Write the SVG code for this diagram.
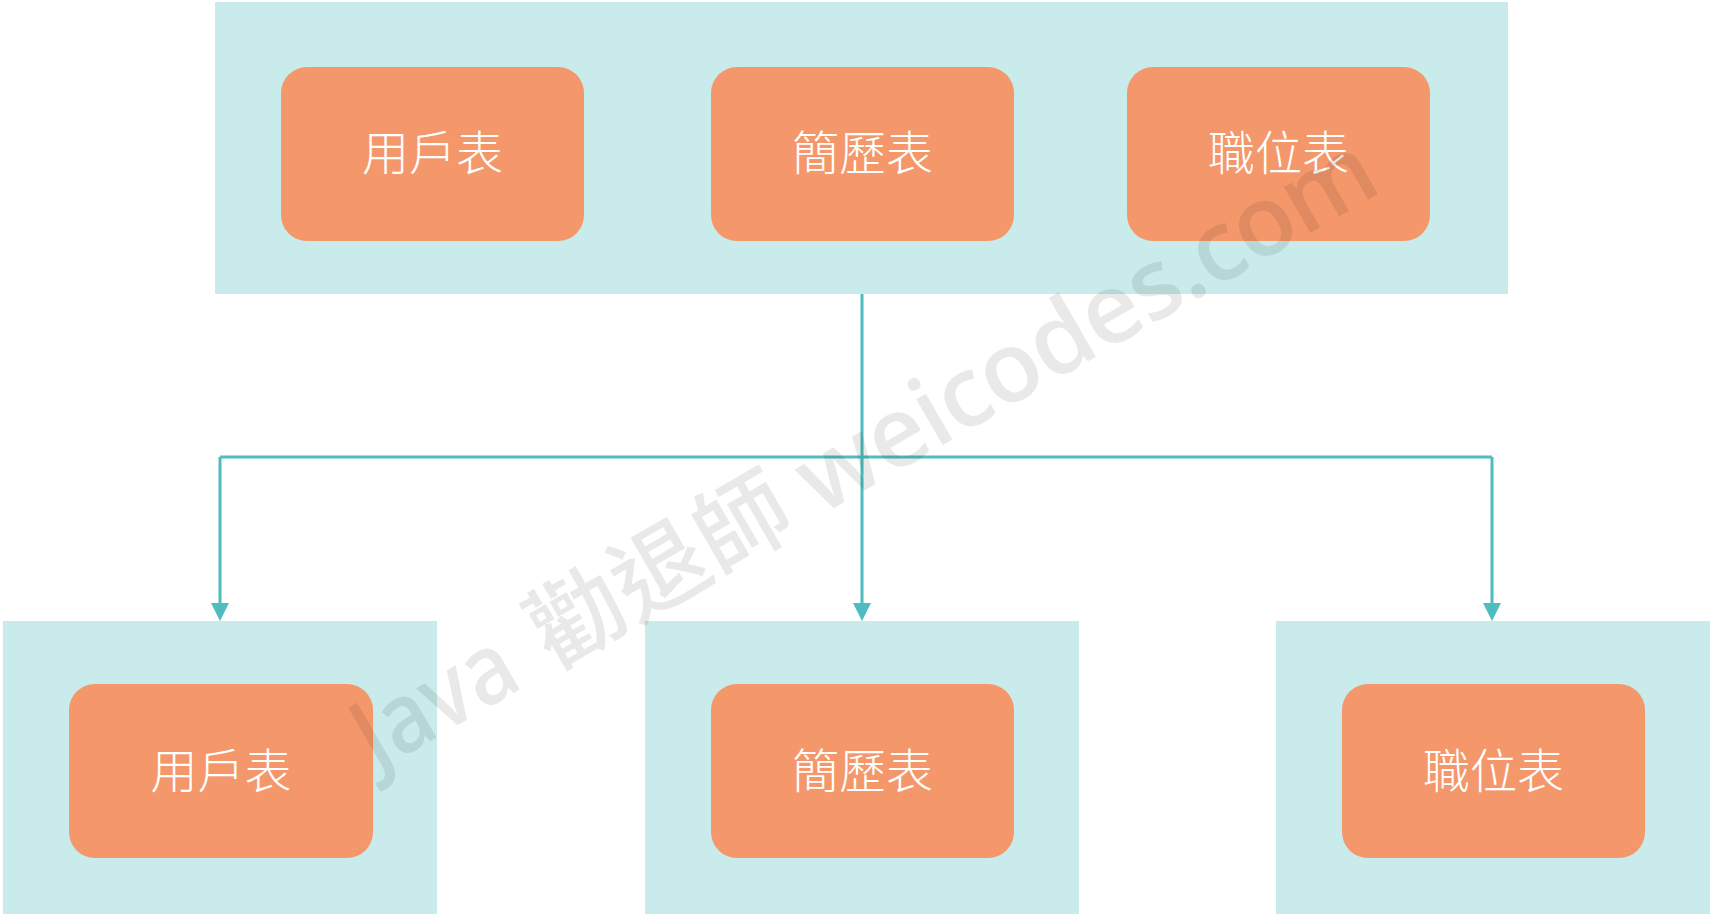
<svg xmlns="http://www.w3.org/2000/svg" width="1710" height="914" viewBox="0 0 1710 914">
  <style>
    .panel { fill: #c9ebeb; }
    .box { fill: #f4976a; }
    .label { fill: #ffffff; font-family: "Noto Sans CJK TC", "Noto Sans CJK SC", sans-serif; font-size: 47px; font-weight: 300; text-anchor: middle; dominant-baseline: central; }
    .link { fill: none; stroke: #4fbdc0; stroke-width: 3; }
    .mark { fill: #000000; fill-opacity: 0.085; font-family: "Open Sans", "Noto Sans CJK TC", sans-serif; font-size: 98px; font-weight: 600; }
    .mark-cjk { fill: #000000; fill-opacity: 0.085; font-family: "Noto Sans CJK TC", "Noto Sans CJK SC", sans-serif; font-size: 95px; font-weight: 500; }
  </style>
  <defs>
    <marker id="arrow" viewBox="0 0 18 18" refX="0" refY="9" markerWidth="18" markerHeight="18" markerUnits="userSpaceOnUse" orient="auto">
      <path d="M0 0 L18 9 L0 18 Z" fill="#4fbdc0"/>
    </marker>
  </defs>
  <rect width="1710" height="914" fill="#ffffff"/>

  <!-- upper panel holding the three source tables -->
  <g id="top-panel">
    <rect class="panel" x="215" y="2" width="1293" height="292"/>
  </g>
  <g id="top-user">
    <rect class="box" x="281" y="67" width="303" height="174" rx="26"/>
    <text class="label" x="432.5" y="149">用戶表</text>
  </g>
  <g id="top-resume">
    <rect class="box" x="711" y="67" width="303" height="174" rx="26"/>
    <text class="label" x="862.5" y="149">簡歷表</text>
  </g>
  <g id="top-job">
    <rect class="box" x="1127" y="67" width="303" height="174" rx="26"/>
    <text class="label" x="1278.5" y="149">職位表</text>
  </g>

  <!-- split targets -->
  <g id="bottom-user">
    <rect class="panel" x="3" y="621" width="434" height="293"/>
    <rect class="box" x="69" y="684" width="304" height="174" rx="26"/>
    <text class="label" x="221" y="767">用戶表</text>
  </g>
  <g id="bottom-resume">
    <rect class="panel" x="645" y="621" width="434" height="293"/>
    <rect class="box" x="711" y="684" width="303" height="174" rx="26"/>
    <text class="label" x="862.5" y="767">簡歷表</text>
  </g>
  <g id="bottom-job">
    <rect class="panel" x="1276" y="621" width="434" height="293"/>
    <rect class="box" x="1342" y="684" width="303" height="174" rx="26"/>
    <text class="label" x="1493.5" y="767">職位表</text>
  </g>

  <!-- connectors -->
  <g id="connectors">
    <path class="link" d="M862 294 V603" marker-end="url(#arrow)"/>
    <path class="link" d="M220 457 H1492"/>
    <path class="link" d="M220 457 V603" marker-end="url(#arrow)"/>
    <path class="link" d="M1492 457 V603" marker-end="url(#arrow)"/>
  </g>

  <!-- watermark, laid out along a baseline tilted 30 degrees -->
  <g id="watermark" transform="rotate(-30)">
    <text class="mark" x="112" y="857" text-anchor="end" textLength="172" lengthAdjust="spacingAndGlyphs">Java</text>
    <text class="mark-cjk" x="144" y="857">勸退師</text>
    <text class="mark" x="452" y="857" textLength="652" lengthAdjust="spacing">weicodes.com</text>
  </g>
</svg>
